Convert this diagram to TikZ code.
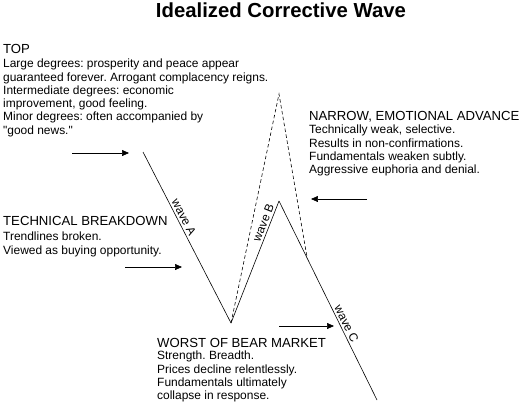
\documentclass[tikz,border=0pt]{standalone}
\usepackage{fontspec}
\setmainfont{Liberation Sans}[Ligatures=TeXOff]
\usetikzlibrary{positioning, arrows.meta}
\frenchspacing

\begin{document}
\begin{tikzpicture}[x=1bp, y=-1bp,
			head/.style={anchor=base west, inner sep=0pt, font=\fontsize{13.2}{16}\selectfont},
			body/.style={anchor=north west, inner sep=0pt, align=left, font=\fontsize{12}{13.3}\selectfont},
			wave/.style={line width=0.6pt},
			ghost/.style={wave, dash pattern=on 3.5pt off 2.5pt},
			pointer/.style={-{Triangle[length=7pt, width=6pt]}, line width=0.6pt},
			wlabel/.style={sloped, above, inner sep=2pt, font=\fontsize{12}{14}\selectfont}]
			\useasboundingbox (0,0) rectangle (524,403);
			\node[anchor=base, inner sep=0pt, font=\bfseries\fontsize{20.4}{24}\selectfont] (title) at (281,17) {Idealized Corrective Wave};
			% wave path
			\coordinate (a0) at (143,152);
			\coordinate (a1) at (231,323);
			\coordinate (b1) at (279,201);
			\coordinate (c1) at (377,400);
			\coordinate (bpeak) at (279,94);
			\coordinate (bjoin) at (307,257);
			\draw[wave] (a0) -- node[wlabel, pos=0.4] {wave A} (a1);
			\draw[wave] (a1) -- node[wlabel, pos=0.8] {wave B} (b1);
			\draw[wave] (b1) -- node[wlabel, pos=0.63] {wave C} (c1);
			\draw[ghost] (a1) -- (bpeak) -- (bjoin);
			% texts
			\node[head] (top) at (3,53) {TOP};
			\node[body] (topbody) at (3,59) {Large degrees: prosperity and peace appear\\guaranteed forever. Arrogant complacency reigns.\\Intermediate degrees: economic\\improvement, good feeling.\\Minor degrees: often accompanied by\\"good news."};
			\node[head] (narrow) at (309,120) {NARROW, EMOTIONAL ADVANCE};
			\node[body] (narrowbody) at (309,125) {Technically weak, selective.\\Results in non-confirmations.\\Fundamentals weaken subtly.\\Aggressive euphoria and denial.};
			\node[head] (tech) at (3,225) {TECHNICAL BREAKDOWN};
			\node[body] (techbody) at (3,232) {Trendlines broken.\\Viewed as buying opportunity.};
			\node[head] (worst) at (157,347) {WORST OF BEAR MARKET};
			\node[body] (worstbody) at (157,351) {Strength. Breadth.\\Prices decline relentlessly.\\Fundamentals ultimately\\collapse in response.};
			% arrows
			\coordinate (p1s) at (72,153);
			\coordinate (p1e) at (129,153);
			\coordinate (p2s) at (125,267);
			\coordinate (p2e) at (182,267);
			\coordinate (p3s) at (367,199);
			\coordinate (p3e) at (311,199);
			\coordinate (p4s) at (279,326);
			\coordinate (p4e) at (334,326);
			\draw[pointer] (p1s) -- (p1e);
			\draw[pointer] (p2s) -- (p2e);
			\draw[pointer] (p3s) -- (p3e);
			\draw[pointer] (p4s) -- (p4e);
		\end{tikzpicture}
\end{document}
